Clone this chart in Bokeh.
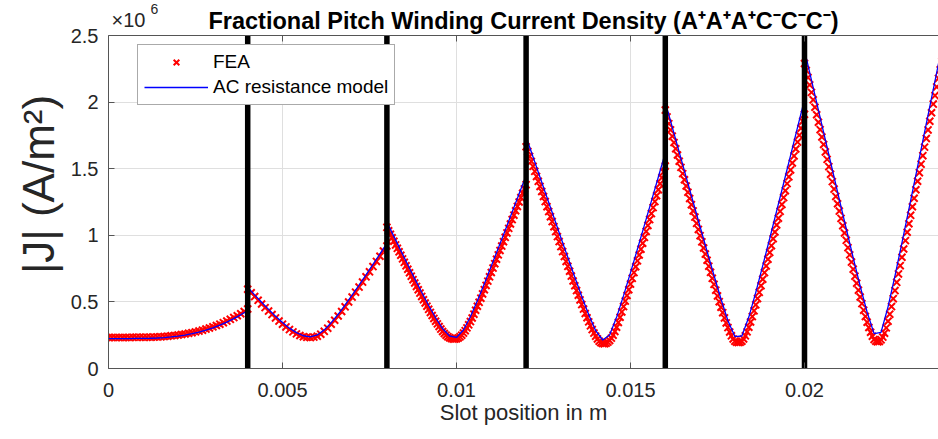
import numpy as np
from bokeh.plotting import figure
from bokeh.models import Range1d, FixedTicker, Legend, LegendItem, Span
from bokeh.core.properties import value
from bokeh.embed import file_html
from bokeh.resources import INLINE

# ---------------- data (|J| in units of 1e6 A/m^2) ----------------
conductor_edges = [0.0, 0.004, 0.008, 0.012, 0.016, 0.020, 0.024]
slot_boundaries = [0.004, 0.008, 0.012, 0.016, 0.020]

model_seg1 = [0.225, 0.225, 0.225, 0.225, 0.226, 0.226, 0.227, 0.229, 0.232, 0.237, 0.243,
              0.251, 0.261, 0.273, 0.288, 0.305, 0.325, 0.348, 0.374, 0.403, 0.435]
model_seg2 = [0.610, 0.553, 0.497, 0.444, 0.392, 0.345, 0.303, 0.269, 0.246, 0.238, 0.252,
              0.290, 0.344, 0.407, 0.477, 0.550, 0.626, 0.703, 0.781, 0.860, 0.940]
model_seg3 = [1.100, 0.992, 0.885, 0.779, 0.675, 0.572, 0.473, 0.381, 0.300, 0.244, 0.233,
              0.289, 0.389, 0.509, 0.637, 0.769, 0.903, 1.038, 1.175, 1.312, 1.450]
model_seg4 = [1.740, 1.588, 1.436, 1.284, 1.133, 0.982, 0.833, 0.685, 0.541, 0.404, 0.284,
              0.214, 0.251, 0.384, 0.547, 0.720, 0.897, 1.076, 1.257, 1.438, 1.620]
model_seg5 = [2.000, 1.812, 1.624, 1.437, 1.250, 1.064, 0.880, 0.698, 0.522, 0.359, 0.240,
              0.244, 0.386, 0.572, 0.772, 0.976, 1.183, 1.391, 1.600, 1.810, 2.020]
model_seg6 = [2.390, 2.165, 1.940, 1.716, 1.492, 1.270, 1.049, 0.831, 0.619, 0.422, 0.262,
              0.272, 0.463, 0.696, 0.944, 1.196, 1.452, 1.708, 1.966, 2.224, 2.483]

fea_seg1 = [0.233, 0.233, 0.233, 0.233, 0.233, 0.233, 0.233, 0.234, 0.234, 0.234, 0.234,
            0.235, 0.235, 0.236, 0.237, 0.238, 0.240, 0.242, 0.245, 0.248, 0.251,
            0.255, 0.259, 0.264, 0.269, 0.275, 0.281, 0.288, 0.296, 0.304, 0.313,
            0.323, 0.333, 0.344, 0.356, 0.369, 0.382, 0.396, 0.411, 0.428, 0.447]
fea_seg2 = [0.595, 0.568, 0.540, 0.512, 0.484, 0.457, 0.431, 0.405, 0.380, 0.356, 0.333,
            0.312, 0.292, 0.275, 0.260, 0.248, 0.239, 0.234, 0.232, 0.236, 0.243,
            0.258, 0.279, 0.303, 0.332, 0.362, 0.394, 0.428, 0.463, 0.499, 0.536,
            0.573, 0.611, 0.649, 0.688, 0.726, 0.765, 0.804, 0.843, 0.882, 0.920]
fea_seg3 = [1.060, 1.034, 1.008, 0.981, 0.955, 0.928, 0.902, 0.876, 0.850, 0.823,
            0.797, 0.771, 0.745, 0.719, 0.693, 0.667, 0.642, 0.616, 0.591, 0.566,
            0.541, 0.516, 0.492, 0.468, 0.444, 0.421, 0.398, 0.376, 0.355, 0.335,
            0.315, 0.296, 0.278, 0.263, 0.250, 0.239, 0.231, 0.225, 0.222, 0.221,
            0.224, 0.229, 0.238, 0.250, 0.266, 0.284, 0.305, 0.328, 0.352, 0.379,
            0.408, 0.437, 0.467, 0.497, 0.528, 0.560, 0.592, 0.624, 0.656, 0.688,
            0.721, 0.754, 0.787, 0.820, 0.853, 0.886, 0.919, 0.952, 0.985, 1.018,
            1.052, 1.085, 1.118, 1.151, 1.184, 1.217, 1.250, 1.283, 1.316, 1.348,
            1.380]
fea_seg4 = [1.665, 1.629, 1.592, 1.555, 1.518, 1.480, 1.442, 1.405, 1.367, 1.329,
            1.291, 1.253, 1.215, 1.178, 1.140, 1.103, 1.065, 1.028, 0.990, 0.953,
            0.915, 0.878, 0.841, 0.804, 0.767, 0.730, 0.694, 0.657, 0.621, 0.585,
            0.550, 0.515, 0.480, 0.446, 0.413, 0.381, 0.350, 0.320, 0.292, 0.266,
            0.243, 0.222, 0.205, 0.194, 0.188, 0.186, 0.190, 0.198, 0.210, 0.228,
            0.250, 0.278, 0.310, 0.346, 0.385, 0.425, 0.465, 0.506, 0.548, 0.591,
            0.634, 0.677, 0.720, 0.764, 0.808, 0.852, 0.896, 0.940, 0.985, 1.029,
            1.074, 1.118, 1.163, 1.208, 1.253, 1.297, 1.342, 1.387, 1.432, 1.476,
            1.520]
fea_seg5 = [1.940, 1.889, 1.838, 1.791, 1.744, 1.697, 1.650, 1.603, 1.556, 1.510,
            1.463, 1.417, 1.370, 1.323, 1.276, 1.230, 1.183, 1.137, 1.090, 1.044,
            0.997, 0.951, 0.905, 0.859, 0.813, 0.768, 0.722, 0.677, 0.632, 0.588,
            0.545, 0.502, 0.460, 0.419, 0.380, 0.342, 0.307, 0.274, 0.245, 0.222,
            0.205, 0.197, 0.195, 0.197, 0.205, 0.222, 0.245, 0.275, 0.310, 0.349,
            0.390, 0.433, 0.478, 0.525, 0.572, 0.621, 0.670, 0.720, 0.770, 0.820,
            0.871, 0.922, 0.974, 1.025, 1.077, 1.128, 1.180, 1.231, 1.283, 1.335,
            1.388, 1.439, 1.491, 1.543, 1.596, 1.648, 1.700, 1.752, 1.804, 1.856,
            1.908]
fea_seg6 = [2.290, 2.238, 2.185, 2.129, 2.073, 2.017, 1.961, 1.905, 1.849, 1.793,
            1.738, 1.682, 1.626, 1.570, 1.515, 1.459, 1.403, 1.347, 1.292, 1.237,
            1.182, 1.127, 1.072, 1.017, 0.962, 0.907, 0.853, 0.799, 0.746, 0.693,
            0.640, 0.588, 0.537, 0.487, 0.438, 0.391, 0.348, 0.308, 0.272, 0.242,
            0.218, 0.205, 0.200, 0.203, 0.215, 0.236, 0.265, 0.305, 0.355, 0.408,
            0.465, 0.524, 0.585, 0.647, 0.710, 0.772, 0.835, 0.897, 0.960, 1.023,
            1.087, 1.150, 1.214, 1.278, 1.342, 1.406, 1.470, 1.534, 1.598, 1.662,
            1.727, 1.791, 1.856, 1.920, 1.985, 2.049, 2.114, 2.178, 2.243, 2.307,
            2.372]

x_ticks = [0, 0.005, 0.01, 0.015, 0.02]
x_tick_labels = ["0", "0.005", "0.01", "0.015", "0.02"]
y_ticks = [0, 0.5, 1, 1.5, 2, 2.5]
y_tick_labels = ["0", "0.5", "1", "1.5", "2", "2.5"]

title_text = "Fractional Pitch Winding Current Density (A\u207aA\u207aA\u207aC\u207bC\u207bC\u207b)"
x_label = "Slot position in m"
y_label = "|J| (A/m\u00b2)"
series_names = ["FEA", "AC resistance model"]
exponent_base, exponent_power = "\u00d710", "6"

# ---------------- assemble ----------------
model_segs = [model_seg1, model_seg2, model_seg3, model_seg4, model_seg5, model_seg6]
fea_segs = [fea_seg1, fea_seg2, fea_seg3, fea_seg4, fea_seg5, fea_seg6]

mx, my, fx, fy = [], [], [], []
for k in range(6):
    a, b = conductor_edges[k], conductor_edges[k + 1]
    mx += list(np.linspace(a, b, len(model_segs[k])))
    my += model_segs[k]
    fx += list(np.linspace(a, b, len(fea_segs[k])))
    fy += fea_segs[k]

FONT = "Liberation Sans"
AX = "#262626"
BOX = "#555555"
GRID = "#dfdfdf"

# layout (pixels)
W, H = 938, 439
FL, FB = 108, 71           # frame left / bottom border
FRAME_W = W - FL
FRAME_H = H - FB           # frame reaches the top of the canvas; the axes box ends at y=2.5
BOX_TOP_PX = 35            # where the value 2.5 sits from the canvas top
y_top = y_ticks[-1]
px_per_y = (FRAME_H - BOX_TOP_PX) / y_top
px_per_x = 34800.0
x_end = FRAME_W / px_per_x
y_end = FRAME_H / px_per_y

p = figure(width=W, height=H, output_backend="svg", toolbar_location=None,
           x_range=Range1d(0, x_end), y_range=Range1d(0, y_end),
           min_border_left=FL, min_border_right=0, min_border_top=0, min_border_bottom=FB)
p.background_fill_color = "white"
p.border_fill_color = "white"
p.outline_line_color = None
p.xgrid.grid_line_color = None
p.ygrid.grid_line_color = GRID

# vertical grid lines only up to the top of the axes box
p.segment(x0=x_ticks, y0=[0] * len(x_ticks), x1=x_ticks, y1=[y_top] * len(x_ticks),
          line_color=GRID, line_width=1)

fea_r = p.scatter(fx, fy, marker="x", size=10, line_color="#ff0000", line_width=2)
model_r = p.line(mx, my, line_color="#0000ff", line_width=1.3)
p.segment(x0=slot_boundaries, y0=[0] * len(slot_boundaries), x1=slot_boundaries,
          y1=[y_top] * len(slot_boundaries), line_color="black", line_width=5.5)

# top edge of the axes box with inward ticks
p.add_layout(Span(location=y_top, dimension="width", line_color=BOX, line_width=1))
tick_len = 6 / px_per_y
p.segment(x0=x_ticks, y0=[y_top] * len(x_ticks), x1=x_ticks,
          y1=[y_top - tick_len] * len(x_ticks), line_color=BOX, line_width=1)

for ax in (p.xaxis[0], p.yaxis[0]):
    ax.axis_line_color = BOX
    ax.major_tick_line_color = BOX
    ax.major_tick_in = 6
    ax.major_tick_out = 0
    ax.minor_tick_line_color = None
    ax.major_label_text_font = FONT
    ax.major_label_text_font_size = "20px"
    ax.major_label_text_color = AX
    ax.axis_label_text_font = FONT
    ax.axis_label_text_font_style = "normal"
    ax.axis_label_text_color = AX

p.xaxis.ticker = FixedTicker(ticks=x_ticks)
p.xaxis.major_label_overrides = {t: s for t, s in zip(x_ticks, x_tick_labels)}
p.xaxis.major_label_standoff = 14
p.xaxis.axis_label = x_label
p.xaxis.axis_label_text_font_size = "22px"
p.xaxis.axis_label_standoff = 0

p.yaxis.ticker = FixedTicker(ticks=y_ticks)
p.yaxis.major_label_overrides = {t: s for t, s in zip(y_ticks, y_tick_labels)}
p.yaxis.major_label_standoff = 10
p.yaxis.bounds = (0, y_top)
p.yaxis.axis_label = y_label
p.yaxis.axis_label_text_font_size = "44px"
p.yaxis.axis_label_standoff = 5

# title and the x10^6 exponent, drawn in the space above the axes box
p.text(x=[x_end / 2], y=[y_top + 15 / px_per_y], text=[title_text], text_font=value(FONT),
       text_font_size=value("23.5px"), text_font_style="bold", text_color="black",
       text_align="center", text_baseline="alphabetic")
p.text(x=[3 / px_per_x], y=[y_top + 16 / px_per_y], text=[exponent_base], text_font=value(FONT),
       text_font_size=value("20px"), text_color=AX, text_align="left", text_baseline="alphabetic")
p.text(x=[42 / px_per_x], y=[y_top + 27 / px_per_y], text=[exponent_power], text_font=value(FONT),
       text_font_size=value("14px"), text_color=AX, text_align="left", text_baseline="alphabetic")

legend = Legend(items=[LegendItem(label=series_names[0], renderers=[fea_r]),
                       LegendItem(label=series_names[1], renderers=[model_r])],
                location=(29, 263))
legend.label_text_font = FONT
legend.label_text_font_size = "19px"
legend.label_text_color = "black"
legend.glyph_width = 64
legend.glyph_height = 20
legend.label_height = 20
legend.label_standoff = 5
legend.spacing = 3
legend.padding = 6
legend.margin = 0
legend.border_line_color = BOX
legend.border_line_width = 1
legend.background_fill_color = "white"
legend.background_fill_alpha = 1
p.add_layout(legend)

open("out.html", "w").write(file_html(p, INLINE))
